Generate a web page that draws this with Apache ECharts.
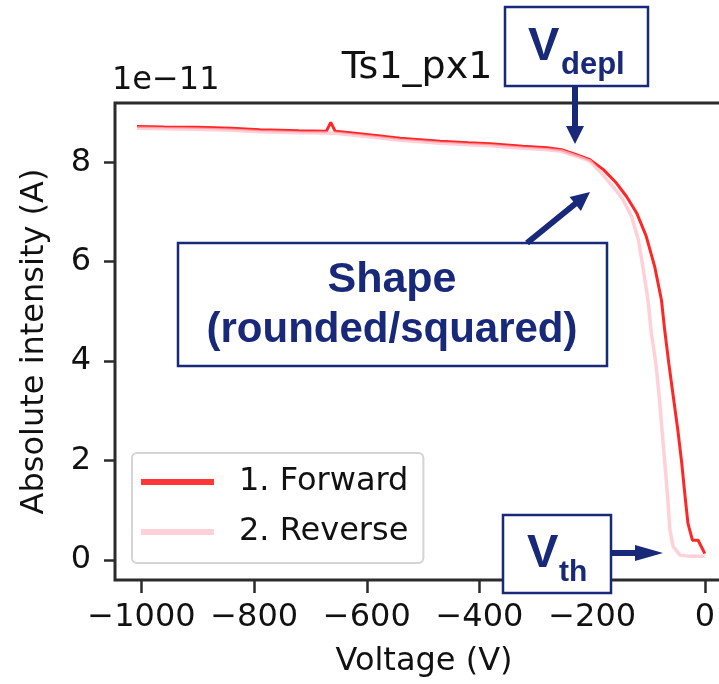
<!DOCTYPE html>
<html>
<head>
<meta charset="utf-8">
<script src="https://cdn.jsdelivr.net/npm/echarts@6/dist/echarts.min.js"></script>
<style>
html,body{margin:0;padding:0;background:#fff;overflow:hidden;width:719px;height:684px;}
#chart{width:734px;height:684px;}
</style>
</head>
<body>
<div id="chart"></div>
<script>
// ---- data (current in units of 1e-11 A) ----
const forwardVoltage = [-1008, -960, -900, -840, -790, -720, -672, -664, -656, -630, -580, -541, -470, -420, -381, -323, -280, -254, -228, -204, -180, -157, -139, -121, -104, -89, -77, -71, -64, -56, -48, -41, -35, -30, -22, -12, 0];
const forwardCurrent = [8.72, 8.71, 8.70, 8.68, 8.65, 8.63, 8.62, 8.80, 8.62, 8.59, 8.53, 8.48, 8.42, 8.39, 8.37, 8.32, 8.29, 8.25, 8.15, 8.05, 7.85, 7.58, 7.31, 6.98, 6.51, 5.90, 5.23, 4.60, 3.96, 3.29, 2.62, 1.95, 1.27, 0.74, 0.40, 0.40, 0.13];
const reverseVoltage = [-1008, -960, -900, -840, -790, -720, -656, -630, -580, -541, -470, -420, -381, -323, -280, -254, -228, -204, -186, -163, -145, -130, -118, -110, -101, -95, -87, -81, -76, -71, -66, -62, -56, -44, -30, -15, 0];
const reverseCurrent = [8.68, 8.67, 8.66, 8.64, 8.61, 8.59, 8.58, 8.55, 8.49, 8.44, 8.38, 8.35, 8.33, 8.28, 8.25, 8.22, 8.12, 8.02, 7.81, 7.51, 7.24, 6.91, 6.44, 5.90, 5.23, 4.57, 3.96, 3.29, 2.62, 1.95, 1.27, 0.60, 0.27, 0.10, 0.08, 0.08, 0.08];
const xTicks = [-1000, -800, -600, -400, -200, 0];
const yTicks = [0, 2, 4, 6, 8];
const seriesNames = ['1. Forward', '2. Reverse'];

const zip = (xs, ys) => xs.map((x, i) => [x, ys[i]]);
const NAVY = '#18297a';
const AXIS = '#2b2b2b';
const SANS = 'DejaVu Sans';

const chart = echarts.init(document.getElementById('chart'), null, {renderer: 'canvas'});

function arrowHead(tip, dir, len, half) {
  const n = Math.hypot(dir[0], dir[1]);
  const u = [dir[0] / n, dir[1] / n];
  const p = [-u[1], u[0]];
  const b = [tip[0] - u[0] * len, tip[1] - u[1] * len];
  return {
    base: b,
    points: [[b[0] + p[0] * half, b[1] + p[1] * half], tip, [b[0] - p[0] * half, b[1] - p[1] * half]]
  };
}

const a1 = arrowHead([575, 144], [0, 1], 18, 9);
const a2 = arrowHead([590, 192], [63, -51], 19, 9);
const a3 = arrowHead([663, 553], [1, 0], 28, 8);

const option = {
  animation: false,
  backgroundColor: '#fff',
  grid: {
    left: 115, right: 1, top: 103, bottom: 104,
    show: true, borderColor: AXIS, borderWidth: 3, backgroundColor: 'transparent'
  },
  xAxis: {
    type: 'value', min: -1047, max: 50,
    name: 'Voltage (V)', nameLocation: 'middle', nameGap: 66,
    nameTextStyle: {fontFamily: SANS, fontSize: 32, color: '#111'},
    axisLine: {show: false, onZero: false},
    splitLine: {show: false},
    axisTick: {show: true, length: 13, customValues: xTicks, lineStyle: {color: AXIS, width: 2.5}},
    axisLabel: {customValues: xTicks, margin: 22, fontFamily: SANS, fontSize: 32, color: '#111',
      formatter: v => (v < 0 ? '\u2212' + Math.abs(v) : String(v))}
  },
  yAxis: {
    type: 'value', min: -0.40, max: 9.19,
    name: 'Absolute intensity (A)', nameLocation: 'middle', nameGap: 64,
    nameTextStyle: {fontFamily: SANS, fontSize: 32, color: '#111'},
    axisLine: {show: false, onZero: false},
    splitLine: {show: false},
    axisTick: {show: true, length: 11, customValues: yTicks, lineStyle: {color: AXIS, width: 2.5}},
    axisLabel: {customValues: yTicks, margin: 24, fontFamily: SANS, fontSize: 32, color: '#111'}
  },
  legend: {
    orient: 'vertical', left: 132, top: 453,
    padding: [11, 15, 13, 9], itemGap: 14, itemWidth: 73, itemHeight: 6,
    borderColor: '#d4d4d4', borderWidth: 2, borderRadius: 5,
    backgroundColor: 'rgba(255,255,255,0.85)',
    textStyle: {fontFamily: SANS, fontSize: 32, lineHeight: 36, color: '#111', padding: [0, 0, 0, 20]},
    data: [{name: seriesNames[0], icon: 'rect'}, {name: seriesNames[1], icon: 'rect'}]
  },
  series: [
    {
      name: seriesNames[0], type: 'line', showSymbol: false, symbol: 'none',
      color: 'rgba(255,20,20,0.85)',
      lineStyle: {width: 3, color: 'rgba(255,0,0,0.85)'},
      data: zip(forwardVoltage, forwardCurrent)
    },
    {
      name: seriesNames[1], type: 'line', showSymbol: false, symbol: 'none',
      color: 'rgba(255,192,203,0.75)',
      lineStyle: {width: 3.5, color: 'rgba(255,192,203,0.75)'},
      data: zip(reverseVoltage, reverseCurrent)
    }
  ],
  graphic: [
    {type: 'text', style: {text: 'Ts1_px1', x: 417, y: 68.5, align: 'center', verticalAlign: 'middle',
      font: '38px "DejaVu Sans"', fill: '#111'}},
    {type: 'text', style: {text: '1e\u221211', x: 112, y: 80.5, align: 'left', verticalAlign: 'middle',
      font: '32px "DejaVu Sans"', fill: '#111'}},

    // V_depl box
    {type: 'rect', shape: {x: 505, y: 7, width: 143, height: 79}, style: {fill: '#fff', stroke: NAVY, lineWidth: 2.5}, z: 100},
    {type: 'text', style: {text: 'V', x: 528, y: 47.5, align: 'left', verticalAlign: 'middle', font: 'bold 47px "Liberation Sans"', fill: NAVY}, z: 101},
    {type: 'text', style: {text: 'depl', x: 561, y: 65.3, align: 'left', verticalAlign: 'middle', font: 'bold 31px "Liberation Sans"', fill: NAVY}, z: 101},
    {type: 'line', shape: {x1: 575, y1: 86, x2: a1.base[0], y2: a1.base[1] + 1}, style: {stroke: NAVY, lineWidth: 6}, z: 100},
    {type: 'polygon', shape: {points: a1.points}, style: {fill: NAVY}, z: 100},

    // Shape box
    {type: 'rect', shape: {x: 178, y: 243, width: 429, height: 123}, style: {fill: '#fff', stroke: NAVY, lineWidth: 2.5}, z: 100},
    {type: 'text', style: {text: 'Shape', x: 392, y: 280.5, align: 'center', verticalAlign: 'middle', font: 'bold 43px "Liberation Sans"', fill: NAVY}, z: 101},
    {type: 'text', style: {text: '(rounded/squared)', x: 392, y: 330.5, align: 'center', verticalAlign: 'middle', font: 'bold 42px "Liberation Sans"', fill: NAVY}, z: 101},
    {type: 'line', shape: {x1: 527, y1: 243, x2: a2.base[0] + 1, y2: a2.base[1] - 1}, style: {stroke: NAVY, lineWidth: 6}, z: 100},
    {type: 'polygon', shape: {points: a2.points}, style: {fill: NAVY}, z: 100},

    // V_th box
    {type: 'rect', shape: {x: 503, y: 515, width: 108, height: 78}, style: {fill: '#fff', stroke: NAVY, lineWidth: 2.5}, z: 100},
    {type: 'text', style: {text: 'V', x: 527, y: 554.5, align: 'left', verticalAlign: 'middle', font: 'bold 47px "Liberation Sans"', fill: NAVY}, z: 101},
    {type: 'text', style: {text: 'th', x: 559, y: 572.6, align: 'left', verticalAlign: 'middle', font: 'bold 30px "Liberation Sans"', fill: NAVY}, z: 101},
    {type: 'line', shape: {x1: 611, y1: 553, x2: a3.base[0] + 1, y2: 553}, style: {stroke: NAVY, lineWidth: 6}, z: 100},
    {type: 'polygon', shape: {points: a3.points}, style: {fill: NAVY}, z: 100}
  ]
};
chart.setOption(option);
</script>
</body>
</html>
